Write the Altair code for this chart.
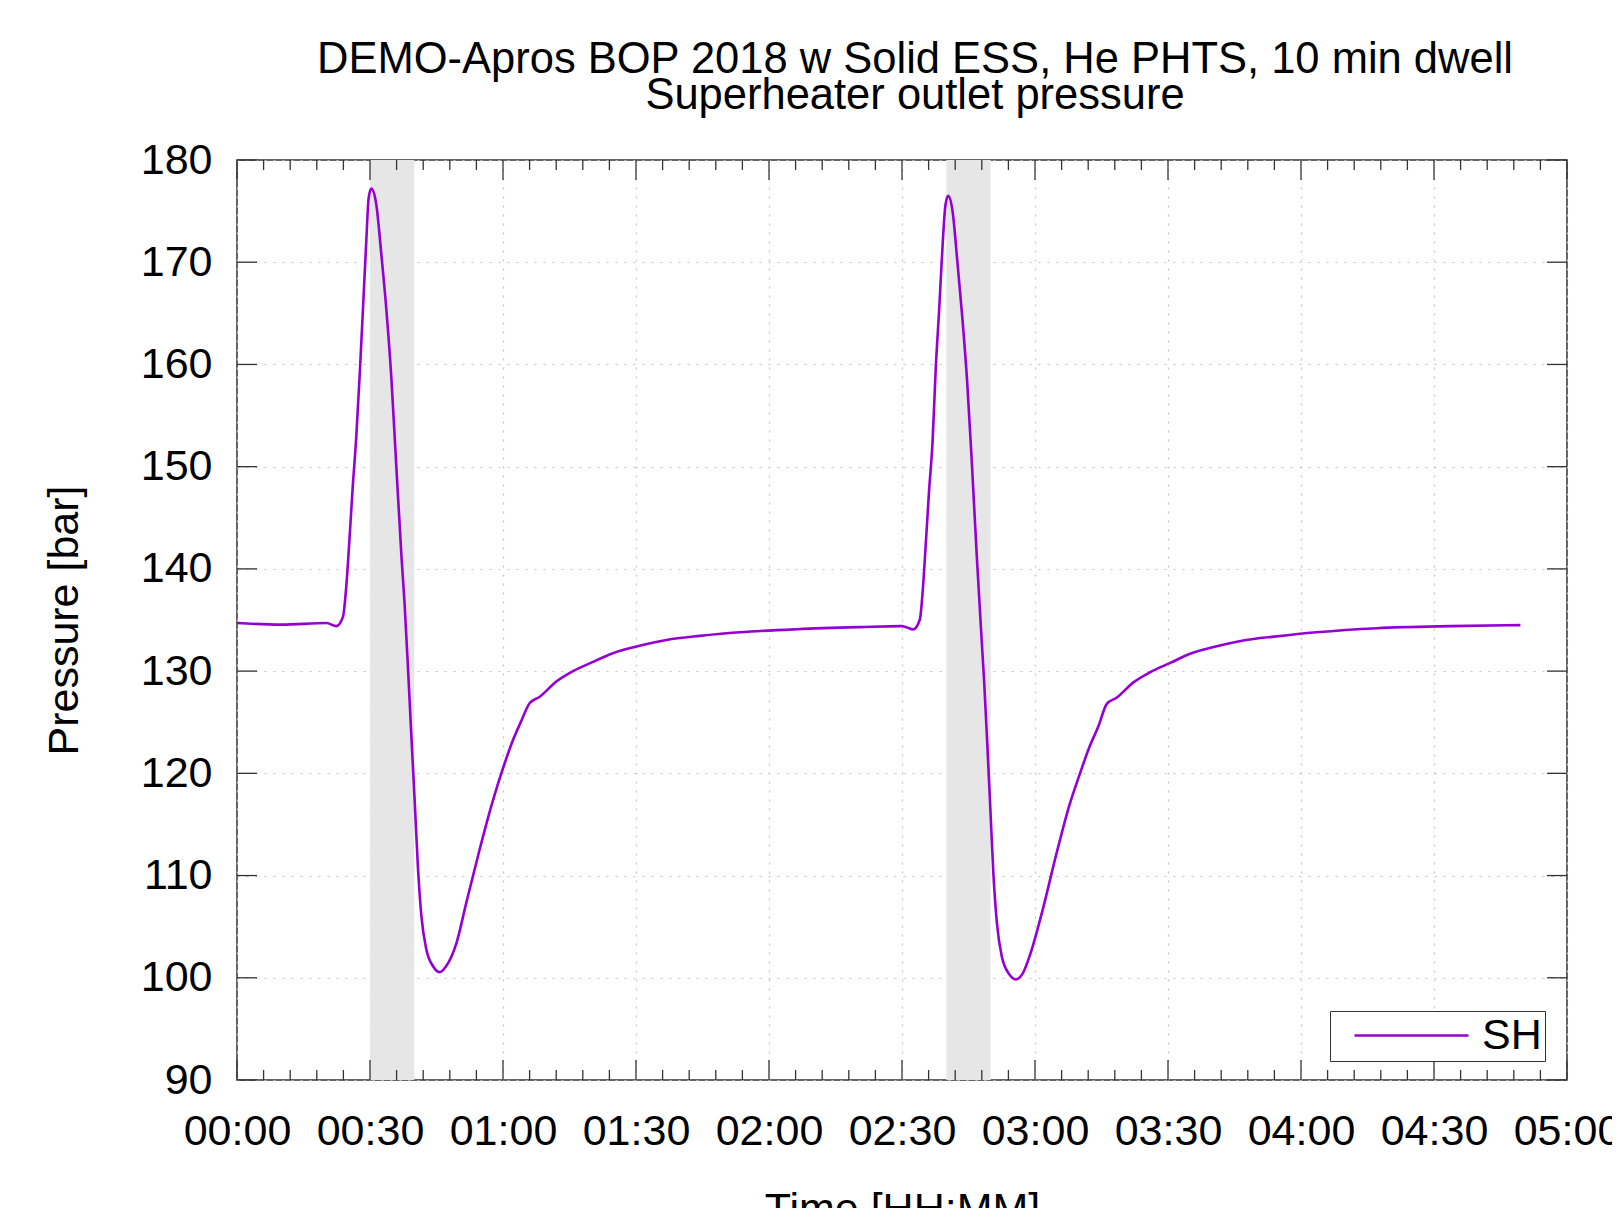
import altair as alt
import pandas as pd

title_lines = ["DEMO-Apros BOP 2018 w Solid ESS, He PHTS, 10 min dwell",
               "Superheater outlet pressure"]
x_title = "Time [HH:MM]"
y_title = "Pressure [bar]"
series_name = "SH"

# time in minutes, pressure in bar
time_min = [0, 10, 20.2, 22.4, 23.9, 24.65, 25.4, 26.1, 26.9, 27.65, 28.4, 29.2,
            29.7, 30.3, 31.4, 32.55, 33.7, 34.8, 35.9, 37.1, 37.8, 38.55, 39.3,
            40.07, 40.8, 41.6, 42.7, 44.2, 45.7, 47.2, 49.5, 51.7, 54.7, 57.7,
            60.0, 62.3, 64.2, 66.0, 68.3, 72.1, 75.8, 80.3, 84.8, 90.1, 96.9,
            104.4, 113.4, 126.4, 140.4,
            149.9, 151.0, 152.5, 154.0, 154.7, 155.4, 156.1, 156.9, 157.6,
            158.4, 159.2, 159.8, 160.4, 161.4, 162.5, 163.6, 164.7, 165.8,
            166.9, 168.0, 168.5, 169.2, 169.9, 170.6, 171.4, 172.5, 174.1,
            175.7, 177.2, 179.0, 181.7, 184.7, 187.7, 190.0, 192.3, 194.3,
            196.2, 198.4, 202.2, 206.0, 210.5, 215.0, 220.3, 227.0, 234.5,
            243.5, 257.2, 273.6, 289.5]
pressure_bar = [134.7, 134.55, 134.7, 134.4, 135.3, 138.3, 143.1, 148.0, 152.9,
                158.8, 165.3, 172.4, 176.3, 177.2, 175.7, 170.8, 165.3, 158.8,
                150.3, 141.2, 136.6, 130.45, 123.9, 117.4, 110.9, 106.0, 102.8,
                101.15, 100.55, 101.15, 103.4, 107.3, 112.5, 117.3, 120.5, 123.3,
                125.2, 126.85, 127.5, 129.0, 130.0, 130.9, 131.75, 132.4, 133.05,
                133.45, 133.8, 134.1, 134.3,
                134.4, 134.3, 134.07, 135.0, 138.0, 142.7, 147.6, 152.5, 159.5,
                165.5, 172.0, 175.6, 176.5, 175.0, 170.0, 164.6, 158.3, 150.0,
                141.0, 132.8, 129.2, 123.2, 116.8, 110.3, 105.4, 102.1, 100.4,
                99.84, 100.4, 102.4, 106.6, 111.9, 116.8, 119.8, 122.6, 124.6,
                126.8, 127.4, 128.9, 129.9, 130.8, 131.7, 132.35, 133.0, 133.4,
                133.8, 134.2, 134.4, 134.5]

dwell_start = [30, 160]
dwell_end = [40, 170]

x_major = list(range(0, 301, 30))
x_minor = [v for v in range(0, 301, 6) if v % 30 != 0]
y_major = list(range(90, 181, 10))

W, H = 1330, 920
FONT = "Liberation Sans"
INK = "#333333"

line_df = pd.DataFrame({"t": time_min, "p": pressure_bar, "series": series_name})
dwell_df = pd.DataFrame({"start": dwell_start, "end": dwell_end})
xmaj_df = pd.DataFrame({"v": x_major})
xmin_df = pd.DataFrame({"v": x_minor})
ymaj_df = pd.DataFrame({"v": y_major})

xs = alt.Scale(domain=[0, 300], nice=False, zero=False)
ys = alt.Scale(domain=[90, 180], nice=False, zero=False)

x_axis = alt.Axis(
    values=x_major,
    labelExpr="format(floor(datum.value/60),'02d') + ':' + format(datum.value%60,'02d')",
    ticks=False, tickSize=0, domain=False,
    grid=True, gridDash=[2, 7], gridColor="#c4c4c4", gridWidth=1.2,
    labelFont=FONT, labelFontSize=43, labelColor="black",
    labelBaseline="alphabetic", labelPadding=64,
    labelOverlap=False, labelFlush=False,
    title=x_title, titleFont=FONT, titleFontSize=43, titleFontWeight="normal",
    titleColor="black", titleBaseline="alphabetic", titleX=W / 2, titleY=142,
)
y_axis = alt.Axis(
    values=y_major,
    ticks=False, tickSize=0, domain=False,
    grid=True, gridDash=[2, 7], gridColor="#c4c4c4", gridWidth=1.2,
    labelFont=FONT, labelFontSize=43, labelColor="black", labelPadding=25,
    labelOverlap=False, labelFlush=False,
    title=y_title, titleFont=FONT, titleFontSize=43, titleFontWeight="normal",
    titleColor="black", titleBaseline="middle", titleX=-173, titleY=H / 2,
)

shade = alt.Chart(dwell_df).mark_rect(color="#e6e6e6").encode(
    x=alt.X("start:Q", scale=xs, axis=x_axis),
    x2="end:Q",
    y=alt.value(0), y2=alt.value(H),
)

line = alt.Chart(line_df).mark_line(interpolate="monotone", strokeWidth=2.6).encode(
    x=alt.X("t:Q", scale=xs, axis=x_axis),
    y=alt.Y("p:Q", scale=ys, axis=y_axis),
    color=alt.Color(
        "series:N",
        scale=alt.Scale(domain=[series_name], range=["#9400d3"]),
        legend=alt.Legend(
            title=None, orient="none", legendX=1093, legendY=851,
            symbolType="stroke", symbolSize=114 * 114, symbolStrokeWidth=2.6,
            labelFont=FONT, labelFontSize=43, labelColor="black",
            labelOffset=12, symbolOffset=20, clipHeight=43,
            strokeColor=INK, fillColor="white", padding=3,
        ),
    ),
)

def xticks(df, y0, y1):
    return alt.Chart(df).mark_rule(color=INK, strokeWidth=1.3).encode(
        x=alt.X("v:Q", scale=xs, axis=x_axis), y=alt.value(y0), y2=alt.value(y1))

def yticks(df, x0, x1):
    return alt.Chart(df).mark_rule(color=INK, strokeWidth=1.3).encode(
        y=alt.Y("v:Q", scale=ys, axis=y_axis), x=alt.value(x0), x2=alt.value(x1))

ticks = [
    xticks(xmaj_df, H, H - 20), xticks(xmin_df, H, H - 10),
    xticks(xmaj_df, 0, 20), xticks(xmin_df, 0, 10),
    yticks(ymaj_df, 0, 20), yticks(ymaj_df, W, W - 20),
]

chart = alt.layer(shade, line, *ticks).properties(
    width=W, height=H,
    padding={"left": 229, "top": 152, "right": 45, "bottom": 128},
    autosize="none",
    title=alt.TitleParams(
        text=title_lines, font=FONT, fontSize=43.5, fontWeight="normal",
        color="black", anchor="middle", dx=13, lineHeight=36, offset=21,
    ),
).configure_view(stroke=INK, strokeWidth=1.5)

chart.save("out.html", embed_options={"renderer": "svg", "actions": False})
